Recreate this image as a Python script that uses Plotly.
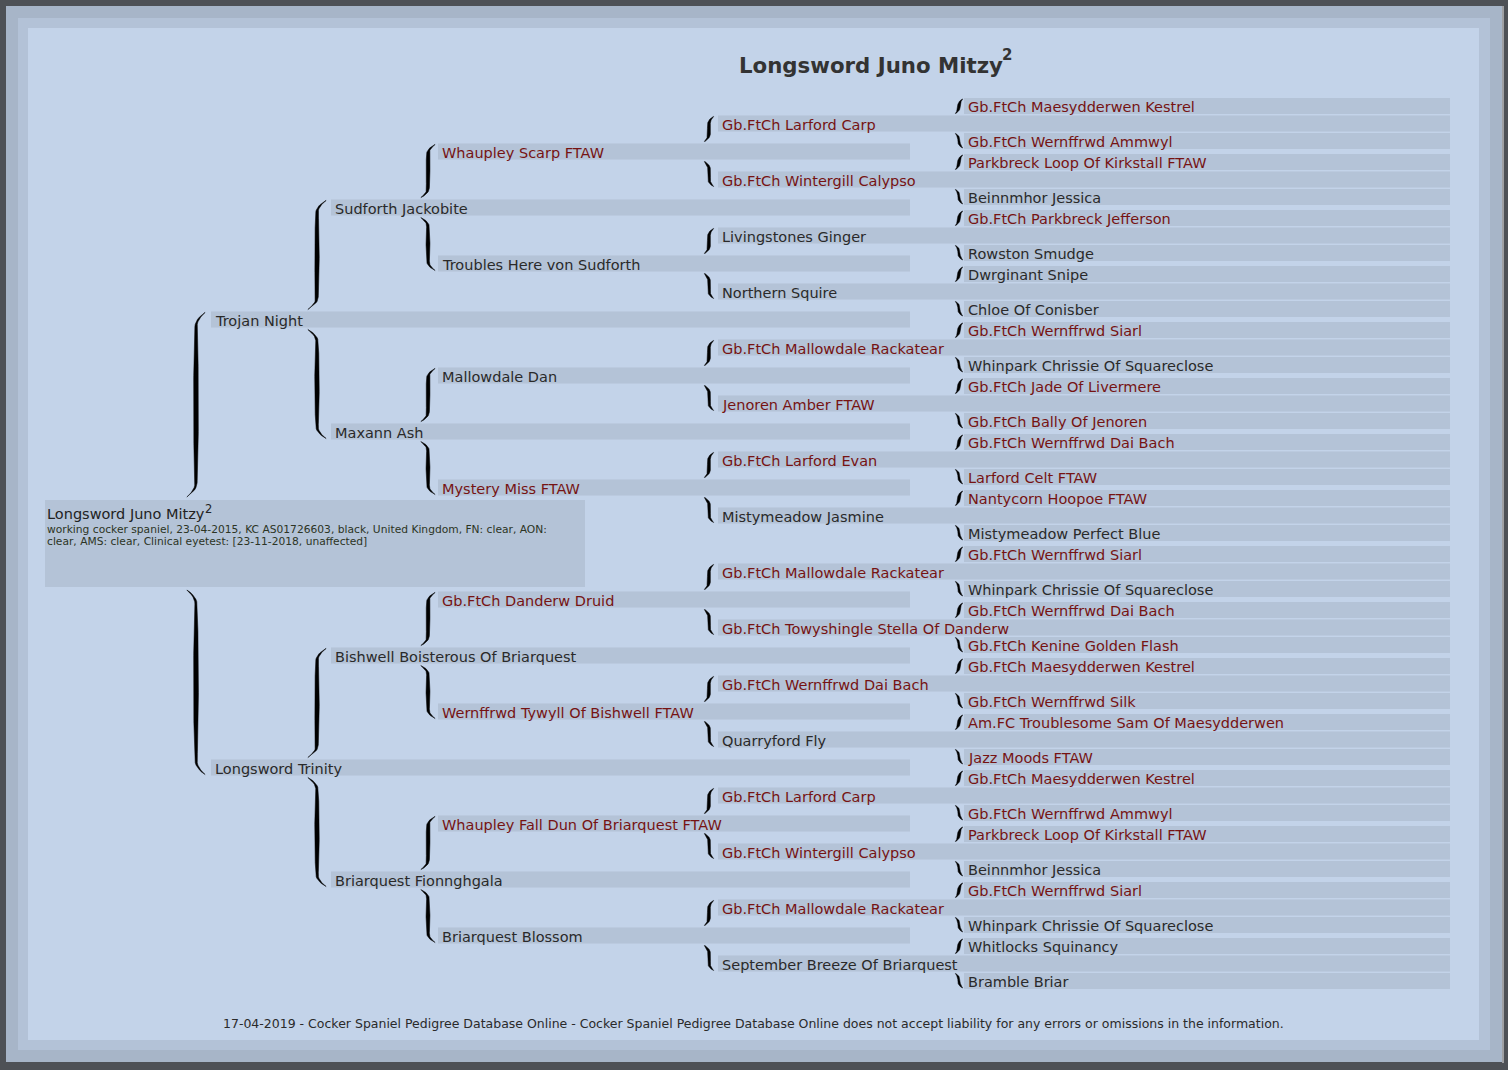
import numpy as np
import plotly.graph_objects as go

# ---------------- data ----------------
title_text = "Longsword Juno Mitzy"
subject_name = "Longsword Juno Mitzy"
superscript = "2"
subject_info = [
    "working cocker spaniel, 23-04-2015, KC AS01726603, black, United Kingdom, FN: clear, AON:",
    "clear, AMS: clear, Clinical eyetest: [23-11-2018, unaffected]",
]
footer_text = ("17-04-2019 - Cocker Spaniel Pedigree Database Online - Cocker Spaniel Pedigree "
               "Database Online does not accept liability for any errors or omissions in the information.")

gen1 = ["Trojan Night", "Longsword Trinity"]
gen2 = ["Sudforth Jackobite", "Maxann Ash", "Bishwell Boisterous Of Briarquest", "Briarquest Fionnghgala"]
gen3 = ["Whaupley Scarp FTAW", "Troubles Here von Sudforth", "Mallowdale Dan", "Mystery Miss FTAW",
        "Gb.FtCh Danderw Druid", "Wernffrwd Tywyll Of Bishwell FTAW",
        "Whaupley Fall Dun Of Briarquest FTAW", "Briarquest Blossom"]
gen4 = ["Gb.FtCh Larford Carp", "Gb.FtCh Wintergill Calypso", "Livingstones Ginger", "Northern Squire",
        "Gb.FtCh Mallowdale Rackatear", "Jenoren Amber FTAW", "Gb.FtCh Larford Evan", "Mistymeadow Jasmine",
        "Gb.FtCh Mallowdale Rackatear", "Gb.FtCh Towyshingle Stella Of Danderw", "Gb.FtCh Wernffrwd Dai Bach",
        "Quarryford Fly", "Gb.FtCh Larford Carp", "Gb.FtCh Wintergill Calypso",
        "Gb.FtCh Mallowdale Rackatear", "September Breeze Of Briarquest"]
gen5 = ["Gb.FtCh Maesydderwen Kestrel", "Gb.FtCh Wernffrwd Ammwyl", "Parkbreck Loop Of Kirkstall FTAW",
        "Beinnmhor Jessica", "Gb.FtCh Parkbreck Jefferson", "Rowston Smudge", "Dwrginant Snipe",
        "Chloe Of Conisber", "Gb.FtCh Wernffrwd Siarl", "Whinpark Chrissie Of Squareclose",
        "Gb.FtCh Jade Of Livermere", "Gb.FtCh Bally Of Jenoren", "Gb.FtCh Wernffrwd Dai Bach",
        "Larford Celt FTAW", "Nantycorn Hoopoe FTAW", "Mistymeadow Perfect Blue",
        "Gb.FtCh Wernffrwd Siarl", "Whinpark Chrissie Of Squareclose", "Gb.FtCh Wernffrwd Dai Bach",
        "Gb.FtCh Kenine Golden Flash", "Gb.FtCh Maesydderwen Kestrel", "Gb.FtCh Wernffrwd Silk",
        "Am.FC Troublesome Sam Of Maesydderwen", "Jazz Moods FTAW", "Gb.FtCh Maesydderwen Kestrel",
        "Gb.FtCh Wernffrwd Ammwyl", "Parkbreck Loop Of Kirkstall FTAW", "Beinnmhor Jessica",
        "Gb.FtCh Wernffrwd Siarl", "Whinpark Chrissie Of Squareclose", "Whitlocks Squinancy",
        "Bramble Briar"]
title_markers = ["Gb.FtCh", "FTAW", "Am.FC"]

generations = [gen1, gen2, gen3, gen4, gen5]

# ---------------- layout constants ----------------
W, H = 1508, 1070
FONT = "DejaVu Sans"
RED = "#761313"
DARK = "#2a2a2a"
BAND = "rgba(140,150,166,0.26)"

TEXT_X = [213, 333, 440, 720, 966]
BR_X = [196, 317, 428, 709, 959]
BAND_X = [(211, 910), (331, 910), (438, 910), (718, 1450), (964, 1450)]
BR_W = [9, 9, 7, 4.5, 3.5]
BR_T = [4.6, 4.2, 3.6, 2.8, 2.2]
BR_C = [14, 12, 9, 7, 6]
ROW0, PAIR, SIB = 106, 56, 35
BOX = (45, 585, 500, 587)

# y positions: gen5 rows, then each child is the midpoint of its parents
ys = [None] * 5
ys[4] = [ROW0 + PAIR * (i // 2) + SIB * (i % 2) for i in range(len(gen5))]
for g in range(3, -1, -1):
    ys[g] = [(ys[g + 1][2 * i] + ys[g + 1][2 * i + 1]) / 2 for i in range(len(generations[g]))]

fig = go.Figure()
shapes = []
annotations = []

# background frame
shapes.append(dict(type="rect", x0=6, x1=1502, y0=6, y1=1062, fillcolor="#a7b5c8", line_width=0, layer="below"))
shapes.append(dict(type="rect", x0=18, x1=1490, y0=18, y1=1050, fillcolor="#b3c2d7", line_width=0, layer="below"))
shapes.append(dict(type="rect", x0=28, x1=1479, y0=28, y1=1040, fillcolor="#c3d3e9", line_width=0, layer="below"))
shapes.append(dict(type="line", x0=1503, x1=1503, y0=6, y1=1063, line=dict(color="#f0f0f0", width=1), layer="below"))

# bands
for g, names in enumerate(generations):
    for i, name in enumerate(names):
        y = ys[g][i]
        shapes.append(dict(type="rect", x0=BAND_X[g][0], x1=BAND_X[g][1], y0=y - 8, y1=y + 8,
                           fillcolor=BAND, line_width=0, layer="below"))
shapes.append(dict(type="rect", x0=BOX[0], x1=BOX[1], y0=BOX[2], y1=BOX[3],
                   fillcolor=BAND, line_width=0, layer="below"))


# brackets
def half_brace(x0, ya, yb, w, t, c, sire):
    s = np.linspace(0, 1, 80)
    y = ya + s * (yb - ya)
    e = min(0.45, c / (yb - ya))
    off = np.zeros_like(s)
    top = s < e
    bot = s > 1 - e
    sg = 1 if sire else -1
    off[top] = sg * w * ((e - s[top]) / e) ** 2
    off[bot] = -sg * w * ((s[bot] - (1 - e)) / e) ** 2
    th = t * np.sin(np.pi * s) ** 0.6 + 0.3
    xl = x0 + off - th / 2
    xr = x0 + off + th / 2
    return list(np.concatenate([xl, xr[::-1], [xl[0]]])), list(np.concatenate([y, y[::-1], [y[0]]]))


bx, by = [], []
for g in range(5):
    for i in range(0, len(generations[g]), 2):
        ysire, ydam = ys[g][i], ys[g][i + 1]
        if g == 0:
            cy_top, cy_bot = BOX[2] - 3, BOX[3] + 3
        else:
            cyc = ys[g - 1][i // 2]
            cy_top, cy_bot = cyc - 10, cyc + 10
        px, py = half_brace(BR_X[g], ysire - 7, cy_top, BR_W[g], BR_T[g], BR_C[g], True)
        bx += px + [None]
        by += py + [None]
        px, py = half_brace(BR_X[g], cy_bot, ydam + 7, BR_W[g], BR_T[g], BR_C[g], False)
        bx += px + [None]
        by += py + [None]

fig.add_trace(go.Scatter(x=bx, y=by, mode="lines", fill="toself", fillcolor="#000000",
                         line=dict(width=0.5, color="#000000"), hoverinfo="skip", showlegend=False))

# names
for g, names in enumerate(generations):
    for i, name in enumerate(names):
        col = RED if any(m in name for m in title_markers) else DARK
        annotations.append(dict(x=TEXT_X[g], y=ys[g][i] + 1, text=name, xanchor="left", yanchor="middle",
                                showarrow=False, font=dict(family=FONT, size=14.5, color=col)))

# subject box text
annotations.append(dict(x=BOX[0], y=514, text=subject_name, xanchor="left",
                        yanchor="middle", showarrow=False, font=dict(family=FONT, size=14.5, color="#222222")))
annotations.append(dict(x=203, y=509, text=superscript, xanchor="left",
                        yanchor="middle", showarrow=False, font=dict(family=FONT, size=11.5, color="#222222")))
for k, line in enumerate(subject_info):
    annotations.append(dict(x=BOX[0], y=529 + 12 * k, text=line, xanchor="left", yanchor="middle",
                            showarrow=False, font=dict(family=FONT, size=10.7, color="#2c3424")))

# title
annotations.append(dict(x=737, y=65, text="<b>" + title_text + "</b>", xanchor="left",
                        yanchor="middle", showarrow=False, font=dict(family=FONT, size=21.3, color="#333333")))
annotations.append(dict(x=1000, y=55, text="<b>" + superscript + "</b>", xanchor="left",
                        yanchor="middle", showarrow=False, font=dict(family=FONT, size=15, color="#333333")))
# footer
annotations.append(dict(x=753, y=1023, text=footer_text, xanchor="center", yanchor="middle",
                        showarrow=False, font=dict(family=FONT, size=12.5, color="#2a2a2a")))

fig.update_layout(
    width=W, height=H, margin=dict(l=0, r=0, t=0, b=0),
    paper_bgcolor="#4e5156", plot_bgcolor="rgba(0,0,0,0)",
    xaxis=dict(range=[0, W], visible=False, fixedrange=True),
    yaxis=dict(range=[H, 0], visible=False, fixedrange=True),
    shapes=shapes, annotations=annotations, showlegend=False,
)

fig.write_html("out.html", config={"displayModeBar": False},
               post_script="document.body.style.margin='0';document.body.style.overflow='hidden';")
